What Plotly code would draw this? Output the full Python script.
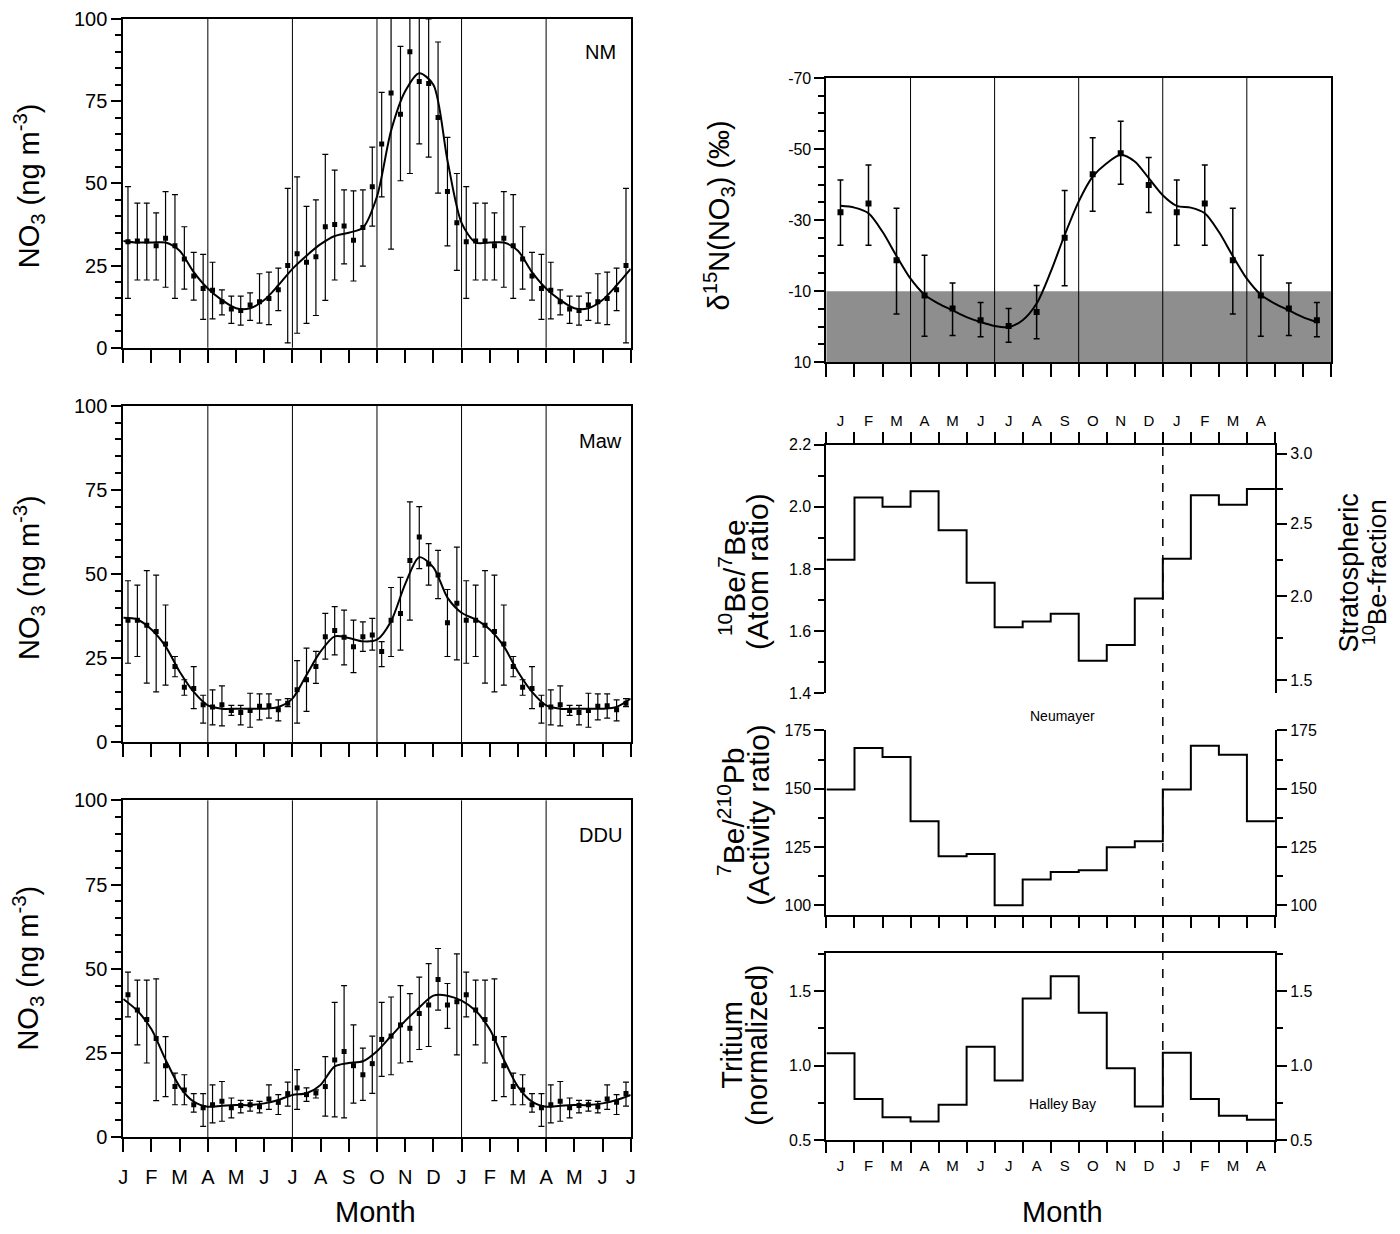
import plotly.graph_objects as go

FONT = "Liberation Sans, Arial, sans-serif"

MONTHS_18 = ["J", "F", "M", "A", "M", "J", "J", "A", "S", "O", "N", "D",
             "J", "F", "M", "A", "M", "J", "J"]
MONTHS_16 = ["J", "F", "M", "A", "M", "J", "J", "A", "S", "O", "N", "D",
             "J", "F", "M", "A"]

# NO3 10-day means (36 per year, Jan..Dec), with error bar ends
NM_MEAN = [32.2, 32.5, 32.5, 31.0, 33.3, 31.0, 27.0, 21.8, 18.0, 17.5, 14.0, 11.8,
           11.3, 13.0, 14.0, 15.0, 17.6, 25.0, 28.6, 26.0, 27.7, 36.8, 37.5, 37.0,
           32.7, 36.6, 49.0, 62.0, 77.5, 71.0, 90.0, 81.0, 80.4, 70.0, 47.5, 38.0]
NM_HI = [49.0, 44.0, 44.0, 41.0, 47.5, 46.6, 36.8, 29.0, 28.4, 26.0, 17.6, 15.7,
         15.7, 16.7, 22.5, 23.0, 24.2, 48.5, 52.0, 43.0, 45.0, 58.8, 54.0, 48.0,
         47.7, 48.0, 61.0, 77.7, 105.0, 91.7, 127.0, 102.0, 100.0, 93.0, 64.0, 53.0]
NM_LO = [15.0, 20.6, 20.6, 20.6, 18.4, 15.0, 17.8, 14.5, 8.6, 8.8, 10.0, 7.4,
         6.9, 8.3, 7.5, 7.0, 11.3, 1.5, 4.4, 7.4, 9.8, 14.4, 20.6, 25.5,
         20.3, 24.8, 37.0, 45.9, 30.0, 50.8, 53.0, 62.0, 58.0, 47.0, 31.0, 23.5]
# fitted curve, read every half month from Jan 1 to Jan 1 of the next year
NM_SMOOTH = [32.5, 32.0, 32.0, 32.0, 29.5, 23.0, 18.0, 14.5, 12.0, 12.0, 14.5, 19.0,
             24.0, 28.0, 31.5, 34.0, 35.0, 36.5, 46.0, 66.0, 78.0, 83.5, 80.0, 57.0, 38.0]

MAW_MEAN = [36.3, 36.3, 34.8, 32.9, 29.2, 22.5, 16.4, 16.0, 11.2, 10.5, 11.2, 9.5,
            8.9, 9.5, 10.7, 10.9, 9.7, 11.6, 15.6, 18.6, 22.5, 31.4, 33.2, 31.2,
            28.4, 31.4, 31.9, 27.0, 36.3, 38.3, 54.0, 61.0, 53.0, 49.7, 35.5, 41.3]
MAW_HI = [48.0, 46.7, 51.0, 49.7, 40.8, 25.5, 18.6, 22.5, 14.0, 15.6, 16.8, 11.0,
          11.0, 14.6, 14.4, 14.4, 12.6, 13.0, 24.3, 28.0, 27.0, 38.3, 40.3, 39.3,
          36.3, 35.8, 36.8, 29.9, 46.0, 49.0, 71.4, 70.0, 59.0, 57.0, 45.4, 58.0]
MAW_LO = [23.5, 25.5, 17.6, 15.0, 17.0, 19.5, 14.0, 10.0, 5.7, 5.2, 4.9, 8.0,
          5.2, 4.5, 6.7, 7.2, 6.4, 10.6, 5.7, 9.2, 17.5, 24.7, 26.0, 23.0,
          20.7, 27.0, 27.4, 22.5, 25.5, 27.4, 36.3, 51.6, 46.7, 42.7, 25.5, 24.5]
MAW_SMOOTH = [37.0, 36.5, 33.5, 28.5, 21.0, 15.0, 11.0, 10.0, 10.0, 10.0, 10.0, 10.5,
              13.0, 20.0, 27.0, 31.5, 31.0, 30.0, 30.5, 36.0, 47.0, 55.0, 52.0, 43.0, 38.5]

DDU_MEAN = [42.3, 37.7, 34.9, 29.3, 21.2, 15.0, 14.0, 9.6, 8.7, 9.6, 10.6, 8.7,
            9.4, 9.6, 9.0, 11.3, 10.3, 12.9, 14.6, 12.6, 13.1, 15.0, 22.9, 25.4,
            21.2, 18.5, 21.8, 29.0, 30.0, 33.3, 32.3, 36.7, 39.2, 46.8, 39.2, 40.2]
DDU_HI = [49.0, 46.6, 46.6, 47.0, 29.8, 19.0, 18.5, 12.9, 12.9, 15.5, 16.5, 11.6,
          10.9, 10.9, 10.6, 15.5, 12.6, 16.3, 20.0, 14.6, 14.0, 23.9, 40.0, 45.0,
          33.3, 26.4, 30.0, 40.0, 41.6, 45.0, 42.6, 47.5, 51.5, 56.0, 45.6, 54.4]
DDU_LO = [35.7, 27.4, 22.0, 10.8, 12.0, 9.6, 9.6, 7.4, 3.2, 4.2, 4.7, 5.7,
          7.2, 7.7, 7.2, 8.2, 6.7, 9.2, 8.2, 10.6, 11.6, 6.2, 6.0, 5.7,
          10.1, 10.9, 13.0, 18.0, 18.5, 22.0, 22.4, 26.0, 26.9, 37.7, 32.3, 24.4]
DDU_SMOOTH = [41.0, 37.5, 32.0, 23.0, 15.0, 10.5, 9.0, 9.3, 9.5, 9.5, 10.0, 11.0,
              12.5, 13.0, 15.5, 21.0, 22.0, 22.5, 25.5, 30.0, 34.5, 38.5, 42.0, 42.0, 40.5]

# delta 15N of nitrate, monthly means Jan..Dec
D15N_MEAN = [-32.2, -34.7, -18.7, -8.8, -5.1, -1.8, -0.2, -4.1, -25.0, -42.9, -48.8, -39.9]
D15N_HI = [-41.3, -45.5, -33.3, -20.1, -12.3, -6.8, -5.1, -11.6, -38.3, -53.2, -57.8, -47.6]
D15N_LO = [-22.9, -22.9, -3.6, 2.7, 2.5, 2.8, 4.4, 3.4, -11.5, -32.5, -40.1, -32.1]
# fitted curve, every half month from mid-Jan to Jan 1 of the next year
D15N_SMOOTH = [-34.0, -33.5, -31.9, -26.7, -19.9, -13.5, -9.0, -6.5, -4.6, -2.7, -1.3, -0.2,
               0.1, -1.8, -6.5, -15.4, -25.8, -35.2, -42.2, -46.0, -48.4, -46.5, -41.8, -37.0]
D15N_BAND = (-10, 10)

# monthly step series Jan..Apr of the following year (16 months)
BE_RATIO = [1.83, 2.03, 2.00, 2.05, 1.925, 1.756, 1.613, 1.631, 1.656, 1.505, 1.556, 1.705,
            1.833, 2.037, 2.007, 2.057]
BE_PB_RATIO = [149.6, 167.4, 163.6, 136.0, 121.0, 122.0, 100.0, 111.0, 114.3, 115.0, 124.9, 127.4,
               149.7, 168.4, 164.6, 136.0]
TRITIUM = [1.083, 0.775, 0.654, 0.625, 0.737, 1.127, 0.90, 1.45, 1.60, 1.355, 0.982, 0.725,
           1.087, 0.775, 0.663, 0.636]

# stratospheric 10Be-fraction scale, placed against the 10Be/7Be ratio
FRACTION_TICKS = ["3.0", "2.5", "2.0", "1.5"]
FRACTION_TICK_AT = [2.171, 1.946, 1.712, 1.442]
FRACTION_MINOR_AT = [2.058, 1.829, 1.577]

QUARTER_LINES = [3, 6, 9, 12, 15]
YEAR_BREAK = 12

W, H = 1400, 1234
# pixel positions -> paper fractions
# (small offset/scale correction found by comparing a first render)
OFF_X, SC_X = 11.6, 0.994
OFF_Y, SC_Y = 18.0, 0.983


def fx(px):
    return (px - OFF_X) / SC_X / W


def fy(py):
    return max(0.0, min(1.0, 1 - (py - OFF_Y) / SC_Y / H))


fig = go.Figure()


def station(n, mean, hi, lo, smooth):
    half = len(mean) // 2
    vals = mean + mean[:half]
    his = hi + hi[:half]
    los = lo + lo[:half]
    xs = [(i + 0.5) / 3 for i in range(len(vals))]
    fig.add_trace(go.Scatter(
        x=xs, y=vals, mode="markers",
        marker=dict(symbol="square", size=5, color="black"),
        error_y=dict(type="data", symmetric=False,
                     array=[h - v for h, v in zip(his, vals)],
                     arrayminus=[v - l for v, l in zip(vals, los)],
                     width=3, thickness=1.2, color="black"),
        xaxis="x" + n, yaxis="y" + n, showlegend=False))
    sm = smooth + smooth[1:13]
    fig.add_trace(go.Scatter(
        x=[i / 2 for i in range(len(sm))], y=sm, mode="lines",
        line=dict(color="black", width=2, shape="spline", smoothing=0.8),
        xaxis="x" + n, yaxis="y" + n, showlegend=False))


station("", NM_MEAN, NM_HI, NM_LO, NM_SMOOTH)
station("2", MAW_MEAN, MAW_HI, MAW_LO, MAW_SMOOTH)
station("3", DDU_MEAN, DDU_HI, DDU_LO, DDU_SMOOTH)

# delta 15N panel
d_vals = D15N_MEAN + D15N_MEAN[:6]
d_hi = D15N_HI + D15N_HI[:6]
d_lo = D15N_LO + D15N_LO[:6]
fig.add_trace(go.Scatter(
    x=[m + 0.5 for m in range(len(d_vals))], y=d_vals, mode="markers",
    marker=dict(symbol="square", size=6, color="black"),
    error_y=dict(type="data", symmetric=False,
                 array=[h - v for h, v in zip(d_hi, d_vals)],
                 arrayminus=[v - l for v, l in zip(d_vals, d_lo)],
                 width=3, thickness=1.5, color="black"),
    xaxis="x4", yaxis="y4", showlegend=False))
d_sm = D15N_SMOOTH + D15N_SMOOTH[:11]
fig.add_trace(go.Scatter(
    x=[0.5 + i / 2 for i in range(len(d_sm))], y=d_sm, mode="lines",
    line=dict(color="black", width=2, shape="spline", smoothing=0.8),
    xaxis="x4", yaxis="y4", showlegend=False))

# step series
for vals, xa, ya in [(BE_RATIO, "x5", "y5"), (BE_PB_RATIO, "x7", "y7"), (TRITIUM, "x9", "y9")]:
    fig.add_trace(go.Scatter(
        x=list(range(len(vals) + 1)), y=vals + vals[-1:], mode="lines",
        line=dict(color="black", width=2, shape="hv"),
        xaxis=xa, yaxis=ya, showlegend=False))

# empty traces so that the right-hand axes get drawn
for xa, ya in [("x5", "y6"), ("x7", "y8"), ("x9", "y10")]:
    fig.add_trace(go.Scatter(x=[], y=[], xaxis=xa, yaxis=ya, showlegend=False, hoverinfo="skip"))

tick_font_l = dict(family=FONT, size=20, color="black")
tick_font_r = dict(family=FONT, size=16, color="black")
axis_common = dict(showline=True, linecolor="black", linewidth=2, showgrid=False,
                   zeroline=False, ticks="outside", tickcolor="black")

LX = [fx(122), fx(630)]
RX = [fx(826), fx(1275)]
RX_D = [fx(826), fx(1331)]
left_rows = [("", [fy(347), fy(7)]), ("2", [fy(742), fy(405)]), ("3", [fy(1137), fy(800)])]

layout = dict(width=W, height=H, margin=dict(l=0, r=0, t=0, b=0),
              paper_bgcolor="white", plot_bgcolor="white", showlegend=False)

for n, dom in left_rows:
    layout["xaxis" + n] = dict(axis_common, domain=LX, range=[0, 18], anchor="y" + n,
                               tickmode="array", tickvals=list(range(19)), ticktext=MONTHS_18,
                               showticklabels=(n == "3"), ticklen=13, tickwidth=2,
                               mirror=True, tickfont=dict(family=FONT, size=20, color="black"),
                               ticklabelstandoff=8)
    layout["yaxis" + n] = dict(axis_common, domain=dom, range=[0, 100], anchor="x" + n,
                               tickmode="linear", tick0=0, dtick=25, ticklen=10, tickwidth=2,
                               minor=dict(dtick=5, ticklen=6, ticks="outside", tickcolor="black"),
                               mirror=True, tickfont=tick_font_l)

layout["xaxis4"] = dict(axis_common, domain=RX_D, range=[0, 18], anchor="y4",
                        tickmode="linear", tick0=0, dtick=1, ticklen=13, tickwidth=2,
                        showticklabels=False, mirror=True)
layout["yaxis4"] = dict(axis_common, domain=[fy(361.5), fy(77)], range=[10, -70], anchor="x4",
                        tickmode="array", tickvals=[-70, -50, -30, -10, 10],
                        ticktext=["-70", "-50", "-30", "-10", "10"], ticklen=10, tickwidth=2,
                        minor=dict(dtick=5, tick0=0, ticklen=6, ticks="outside", tickcolor="black"),
                        mirror=True, tickfont=tick_font_r)

month_mid = [m + 0.5 for m in range(16)]
labelled_months = dict(tickmode="array", tickvals=month_mid, ticktext=MONTHS_16,
                       ticklen=11, tickcolor="rgba(0,0,0,0)",
                       tickfont=dict(family=FONT, size=15, color="black"),
                       minor=dict(tickmode="array", tickvals=list(range(17)), ticks="outside",
                                  ticklen=11, tickwidth=1.5, tickcolor="black"))

layout["xaxis5"] = dict(axis_common, **labelled_months, domain=RX, range=[0, 16],
                        anchor="y5", side="top")
layout["yaxis5"] = dict(axis_common, domain=[fy(693), fy(444)], range=[1.4, 2.2], anchor="x5",
                        tickmode="linear", tick0=0, dtick=0.2, tickformat=".1f", ticklen=10,
                        tickwidth=1.5, minor=dict(dtick=0.1, ticklen=6, ticks="outside", tickcolor="black"),
                        tickfont=tick_font_r)
layout["yaxis6"] = dict(axis_common, overlaying="y5", side="right", anchor="x5",
                        range=[1.4, 2.2], tickmode="array", tickvals=FRACTION_TICK_AT,
                        ticktext=FRACTION_TICKS, ticklen=10, tickwidth=1.5,
                        minor=dict(tickmode="array", tickvals=FRACTION_MINOR_AT, ticklen=6,
                                   ticks="outside", tickcolor="black"),
                        tickfont=tick_font_r)

layout["xaxis7"] = dict(axis_common, domain=RX, range=[0, 16], anchor="y7",
                        tickmode="linear", tick0=0, dtick=1, ticklen=11, tickwidth=1.5,
                        showticklabels=False)
layout["yaxis7"] = dict(axis_common, domain=[fy(915), fy(730)], range=[95.71, 175], anchor="x7",
                        tickmode="linear", tick0=0, dtick=25, ticklen=10, tickwidth=1.5,
                        minor=dict(dtick=12.5, ticklen=6, ticks="outside", tickcolor="black"),
                        tickfont=tick_font_r)
layout["yaxis8"] = dict(layout["yaxis7"], overlaying="y7", side="right")
layout["yaxis8"].pop("domain")

layout["xaxis9"] = dict(axis_common, **labelled_months, domain=RX, range=[0, 16],
                        anchor="y9", mirror=True)
layout["yaxis9"] = dict(axis_common, domain=[fy(1140), fy(953)], range=[0.5, 1.755], anchor="x9",
                        tickmode="linear", tick0=0, dtick=0.5, tickformat=".1f", ticklen=10,
                        tickwidth=1.5, minor=dict(dtick=0.25, ticklen=6, ticks="outside", tickcolor="black"),
                        tickfont=tick_font_r)
layout["yaxis10"] = dict(layout["yaxis9"], overlaying="y9", side="right")
layout["yaxis10"].pop("domain")

fig.update_layout(**layout)

# shaded band and quarter lines
fig.add_shape(type="rect", xref="x4 domain", x0=0, x1=1, yref="y4",
              y0=D15N_BAND[0], y1=D15N_BAND[1], fillcolor="#8e8e8e",
              line=dict(width=0), layer="below")
for xa, ya in [("x", "y"), ("x2", "y2"), ("x3", "y3"), ("x4", "y4")]:
    for q in QUARTER_LINES:
        fig.add_shape(type="line", xref=xa, yref=ya + " domain", x0=q, x1=q, y0=0, y1=1,
                      line=dict(color="black", width=1))
fig.add_shape(type="line", xref="x5", yref="paper", x0=YEAR_BREAK, x1=YEAR_BREAK,
              y0=fy(1140), y1=fy(444), line=dict(color="black", width=1.5, dash="dash"))


def note(text, x, y, size, xref="paper", yref="paper", angle=0):
    fig.add_annotation(text=text, x=x, y=y, xref=xref, yref=yref, showarrow=False,
                       textangle=angle, xanchor="center", yanchor="middle",
                       font=dict(family=FONT, size=size, color="black"))


note("NM", 0.94, 0.9, 20, "x domain", "y domain")
note("Maw", 0.94, 0.896, 20, "x2 domain", "y2 domain")
note("DDU", 0.94, 0.896, 20, "x3 domain", "y3 domain")

no3_title = "NO<sub>3</sub> (ng m<sup>-3</sup>)"
for yc in (185, 577, 968):
    note(no3_title, fx(27), fy(yc), 29, angle=-90)
note("Month", fx(375), fy(1212), 29)

note("δ<sup>15</sup>N(NO<sub>3</sub>) (‰)", fx(718), fy(215), 29, angle=-90)
note("<sup>10</sup>Be/<sup>7</sup>Be", fx(731), fy(577), 30, angle=-90)
note("(Atom ratio)", fx(757), fy(571), 30, angle=-90)
note("<sup>7</sup>Be/<sup>210</sup>Pb", fx(731), fy(812), 30, angle=-90)
note("(Activity ratio)", fx(758), fy(815), 30, angle=-90)
note("Tritium", fx(732), fy(1045), 29, angle=-90)
note("(normalized)", fx(757), fy(1045), 29, angle=-90)
note("Stratospheric", fx(1349), fy(572), 27, angle=-90)
note("<sup>10</sup>Be-fraction", fx(1376), fy(572), 26, angle=-90)
note("Neumayer", fx(1062), fy(716), 14)
note("Halley Bay", fx(1062), fy(1104), 14)
note("Month", fx(1062), fy(1212), 29)

fig.write_html("out.html")
